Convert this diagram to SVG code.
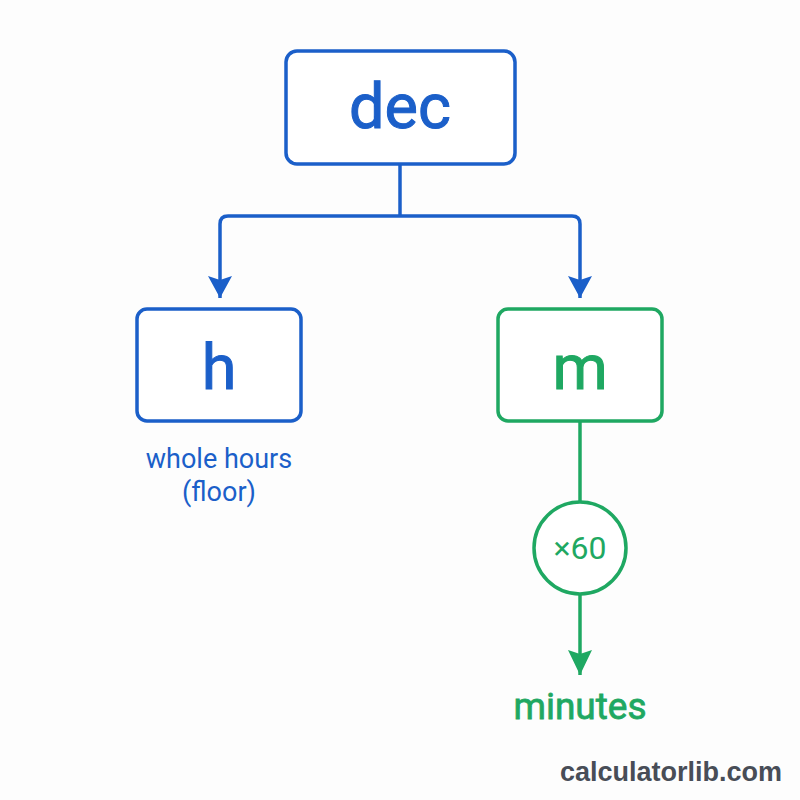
<svg xmlns="http://www.w3.org/2000/svg" width="800" height="800" viewBox="0 0 800 800">
<defs>
<style>
.blue{stroke:#1b5fc9;fill:none;stroke-width:3.5}
.green{stroke:#1fa862;fill:none;stroke-width:3.5}
.box{fill:#fff}
.t{font-family:Roboto,"Liberation Sans",sans-serif;text-anchor:middle}
.big{font-size:63px;font-weight:400}
.bt{fill:#1b5fc9}
.gt{fill:#1fa862}
</style>
<marker id="ab" viewBox="0 0 24 24" markerWidth="24" markerHeight="24" refX="22" refY="12" orient="auto" markerUnits="userSpaceOnUse">
<path d="M0,0 L22,12 L0,24 L4,12 Z" fill="#1b5fc9"/>
</marker>
<marker id="ag" viewBox="0 0 26 24" markerWidth="26" markerHeight="24" refX="25" refY="12" orient="auto" markerUnits="userSpaceOnUse">
<path d="M0,0 L25,12 L0,24 L4,12 Z" fill="#1fa862"/>
</marker>
</defs>
<rect width="800" height="800" fill="#fdfdfd"/>
<g id="connectors">
<path class="blue" d="M400,164 V216"/>
<path class="blue" d="M400,216 H228 Q220,216 220,224 V298" marker-end="url(#ab)"/>
<path class="blue" d="M400,216 H572 Q580,216 580,224 V298" marker-end="url(#ab)"/>
<path class="green" d="M580,422 V501"/>
<path class="green" d="M580,595 V675" marker-end="url(#ag)"/>
</g>
<g id="node-dec">
<rect class="blue box" x="286" y="51" width="229" height="113" rx="11"/>
<text class="t big bt" x="400" y="128" stroke="#1b5fc9" stroke-width="1">dec</text>
</g>
<g id="node-h">
<rect class="blue box" x="137" y="309" width="164" height="112" rx="10"/>
<text class="t big bt" x="219" y="389" stroke="#1b5fc9" stroke-width="1">h</text>
<text class="t bt" x="219" y="468" font-size="27">whole hours</text>
<text class="t bt" x="219" y="501" font-size="27">(floor)</text>
</g>
<g id="node-m">
<rect class="green box" x="498" y="309" width="164" height="112" rx="10"/>
<text class="t big gt" x="580" y="389" stroke="#1fa862" stroke-width="1">m</text>
</g>
<g id="node-x60">
<circle class="green box" cx="580" cy="548" r="46"/>
<text class="t gt" x="580" y="559" font-size="32">×60</text>
</g>
<g id="node-minutes">
<text class="t gt" x="580" y="719" font-size="37" stroke="#1fa862" stroke-width="0.8">minutes</text>
</g>
<text x="782" y="781" text-anchor="end" font-family="'Liberation Sans',Arial,sans-serif" font-weight="bold" font-size="27" fill="#484d57">calculatorlib.com</text>
</svg>
